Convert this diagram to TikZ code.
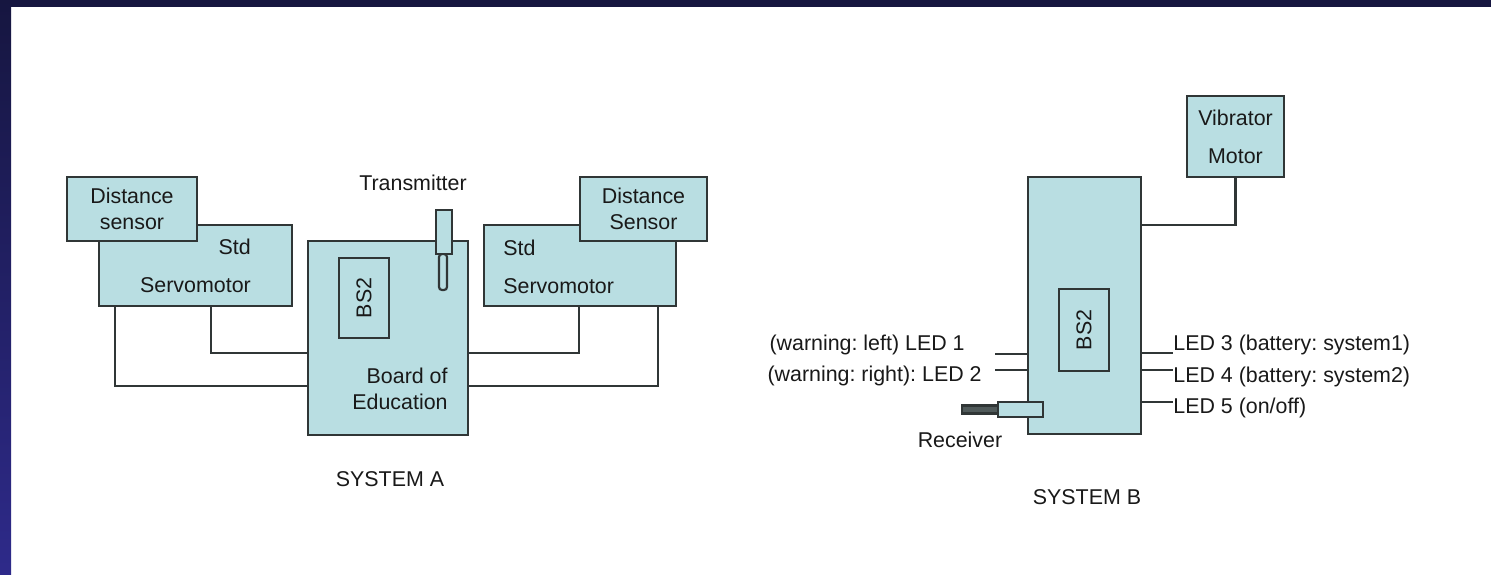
\documentclass[tikz,border=0pt]{standalone}
\usepackage{fontspec}
\setmainfont{Liberation Sans}
\usetikzlibrary{positioning}
\definecolor{boxcol}{RGB}{185,222,226}
\definecolor{linecol}{RGB}{48,54,54}
\definecolor{navytop}{RGB}{22,22,64}
\definecolor{navybot}{RGB}{46,42,138}
\definecolor{rodcol}{RGB}{80,90,90}
\frenchspacing

\begin{document}
\begin{tikzpicture}[x=0.5pt, y=-0.5pt, font=\fontsize{10.7}{13}\selectfont,
  box/.style={draw=linecol, line width=1.1pt, fill=boxcol, inner sep=0pt, text=black!90},
  wire/.style={draw=linecol, line width=1.1pt},
  lab/.style={inner sep=0pt, text=black!90},
  wide/.style={font=\fontsize{10.7}{19}\selectfont}]
  % frame
  \useasboundingbox (0,0) rectangle (1491,574);
  \fill[white] (0,0) rectangle (1491,574);
  \fill[navytop] (0,0) rectangle (1491,7);
  \shade[top color=navytop, bottom color=navybot] (0,0) rectangle (11,574);
  % system A
  \node[box, wide, align=right, minimum width=96.5pt, minimum height=40.5pt] (svL) at (195.5,265.5) {Std\\Servomotor};
  \node[box, align=center, minimum width=65pt, minimum height=32pt] (dsL) at (132,209) {Distance\\sensor};
  \node[box, minimum width=80pt, minimum height=97pt] (boe) at (388,338) {};
  \node[box, rotate=90, minimum width=40pt, minimum height=25pt] (bs2A) at (364,298) {BS2};
  \node[lab, align=right, anchor=east] (boet) at (448,388.5) {Board of\\Education};
  \node[box, rounded corners=1.5pt, minimum width=4pt, minimum height=18pt] (txrod) at (443,272) {};
  \node[box, minimum width=8pt, minimum height=22pt] (txant) at (444,232) {};
  \node[lab] (tx) at (413,183) {Transmitter};
  \node[box, minimum width=96pt, minimum height=40.5pt] (svR) at (580,265.5) {};
  \node[lab, wide, align=left, anchor=west] (svRt) at (503,267) {Std\\Servomotor};
  \node[box, align=center, minimum width=63.5pt, minimum height=32pt] (dsR) at (643.5,209) {Distance\\Sensor};
  \draw[wire] ([xshift=8.5pt]svL.south west) |- ([yshift=-24pt]boe.west);
  \draw[wire] ([xshift=56.5pt]svL.south west) |- ([yshift=-7.5pt]boe.west);
  \draw[wire] ([yshift=-7.5pt]boe.east) -| ([xshift=48pt]svR.south west);
  \draw[wire] ([yshift=-24pt]boe.east) -| ([xshift=87.5pt]svR.south west);
  \node[lab] (sysA) at (390,479) {SYSTEM A};
  % system B
  \node[box, minimum width=56.5pt, minimum height=128.5pt] (mcu) at (1084.5,305.5) {};
  \node[box, rotate=90, minimum width=41pt, minimum height=25pt] (bs2B) at (1084,330) {BS2};
  \node[box, wide, align=center, minimum width=48.5pt, minimum height=40.5pt] (vib) at (1235.5,136.5) {Vibrator\\Motor};
  \draw[wire] (vib.south) |- ([yshift=40.25pt]mcu.east);
  \node[box, fill=rodcol, minimum width=18pt, minimum height=4pt] (rxrod) at (980,409.5) {};
  \node[box, minimum width=22.5pt, minimum height=7.5pt] (rx) at (1020.5,409.5) {};
  \node[lab] (rxt) at (960,440) {Receiver};
  \coordinate (l1) at (995,354);
  \coordinate (l2) at (995,370);
  \coordinate (r3) at (1173,353);
  \coordinate (r4) at (1173,370);
  \coordinate (r5) at (1173,402);
  \draw[wire] (l1) -- (l1 -| mcu.west);
  \draw[wire] (l2) -- (l2 -| mcu.west);
  \draw[wire] (r3 -| mcu.east) -- (r3);
  \draw[wire] (r4 -| mcu.east) -- (r4);
  \draw[wire] (r5 -| mcu.east) -- (r5);
  \node[lab, anchor=east] (led1) at (965,345) {(warning: left) LED 1};
  \node[lab, anchor=east] (led2) at (982,376) {(warning: right): LED 2};
  \node[lab, anchor=west] (led3) at (1173,345) {LED 3 (battery: system1)};
  \node[lab, anchor=west] (led4) at (1173,377) {LED 4 (battery: system2)};
  \node[lab, anchor=west] (led5) at (1173,408) {LED 5 (on/off)};
  \node[lab] (sysB) at (1087,497) {SYSTEM B};
\end{tikzpicture}
\end{document}
